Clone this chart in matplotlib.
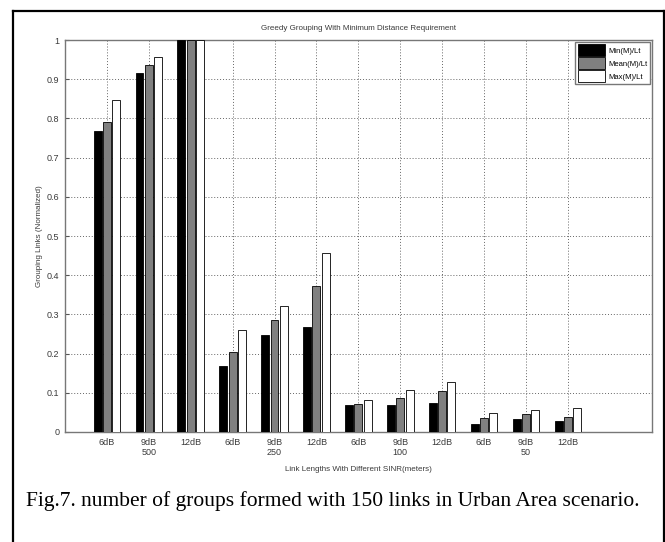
import numpy as np
import matplotlib.pyplot as plt
from matplotlib.lines import Line2D

# data
snr_labels = ["6dB", "9dB", "12dB"] * 4
link_lengths = ["500", "250", "100", "50"]
series_names = ["Min(M)/Lt", "Mean(M)/Lt", "Max(M)/Lt"]

min_vals = [0.769, 0.915, 1.0, 0.168, 0.248, 0.268, 0.068, 0.068, 0.074, 0.021, 0.034, 0.028]
mean_vals = [0.790, 0.937, 1.0, 0.204, 0.287, 0.373, 0.072, 0.087, 0.104, 0.036, 0.046, 0.038]
max_vals = [0.848, 0.956, 1.0, 0.261, 0.321, 0.456, 0.081, 0.108, 0.128, 0.048, 0.057, 0.061]

colors = ["#000000", "#808080", "#ffffff"]

sans = "Liberation Sans"
txt_col = "#3a3a3a"

fig = plt.figure(figsize=(6.65, 5.42), dpi=100)
ax = fig.add_axes([0.0977, 0.203, 0.8823, 0.723])

x = np.arange(1, len(min_vals) + 1)
step = 0.222
width = 0.19
for i, vals in enumerate([min_vals, mean_vals, max_vals]):
    ax.bar(x + (i - 1) * step, vals, width, color=colors[i], edgecolor="black",
           linewidth=0.6, label=series_names[i], zorder=3)

ax.set_xlim(0, 14)
ax.set_ylim(0, 1)
ax.set_xticks(x)
ax.set_xticklabels(snr_labels, fontsize=6.5, family=sans, color=txt_col)
ax.set_yticks(np.arange(0, 1.01, 0.1))
ax.set_yticklabels(["0"] + ["%.1f" % v for v in np.arange(0.1, 0.95, 0.1)] + ["1"],
                   fontsize=6.5, family=sans, color=txt_col)
ax.tick_params(direction="in", length=3, color="#555555", pad=4)
ax.grid(True, linestyle=(0, (1, 2)), color="#666666", linewidth=0.7, zorder=0)
ax.set_axisbelow(True)
for s in ax.spines.values():
    s.set_color("#777777")
    s.set_linewidth(1.0)

# link length labels under the middle of each group
for k, name in enumerate(link_lengths):
    ax.text(3 * k + 2, -0.052, name, ha="center", va="center", fontsize=6.5,
            family=sans, color=txt_col, transform=ax.get_xaxis_transform())

ax.set_title("Greedy Grouping With Minimum Distance Requirement", fontsize=5.8,
             family=sans, color=txt_col, pad=7)
ax.set_xlabel("Link Lengths With Different SINR(meters)", fontsize=5.8,
              family=sans, color=txt_col, labelpad=14)
ax.set_ylabel("Grouping Links (Normalized)", fontsize=5.8, family=sans,
              color=txt_col, labelpad=3)

leg = ax.legend(loc="upper right", handlelength=3.6, handleheight=2.0,
                borderaxespad=0.25, fancybox=False, framealpha=1, edgecolor="#777777",
                labelspacing=0.15, handletextpad=0.4, borderpad=0.3,
                prop={"family": sans, "size": 5.5})
leg.get_frame().set_linewidth(1.0)

fig.text(0.5, 0.076, "Fig.7. number of groups formed with 150 links in Urban Area scenario.",
         ha="center", va="center", fontsize=15.5, family="Liberation Serif")

# outer frame of the figure (open at the bottom)
fig.add_artist(Line2D([0.019, 0.019], [0.0, 0.98], color="black", lw=1.6, transform=fig.transFigure))
fig.add_artist(Line2D([0.019, 0.998], [0.98, 0.98], color="black", lw=1.6, transform=fig.transFigure))
fig.add_artist(Line2D([0.998, 0.998], [0.0, 0.98], color="black", lw=1.6, transform=fig.transFigure))

fig.savefig("out.png", dpi=100)
